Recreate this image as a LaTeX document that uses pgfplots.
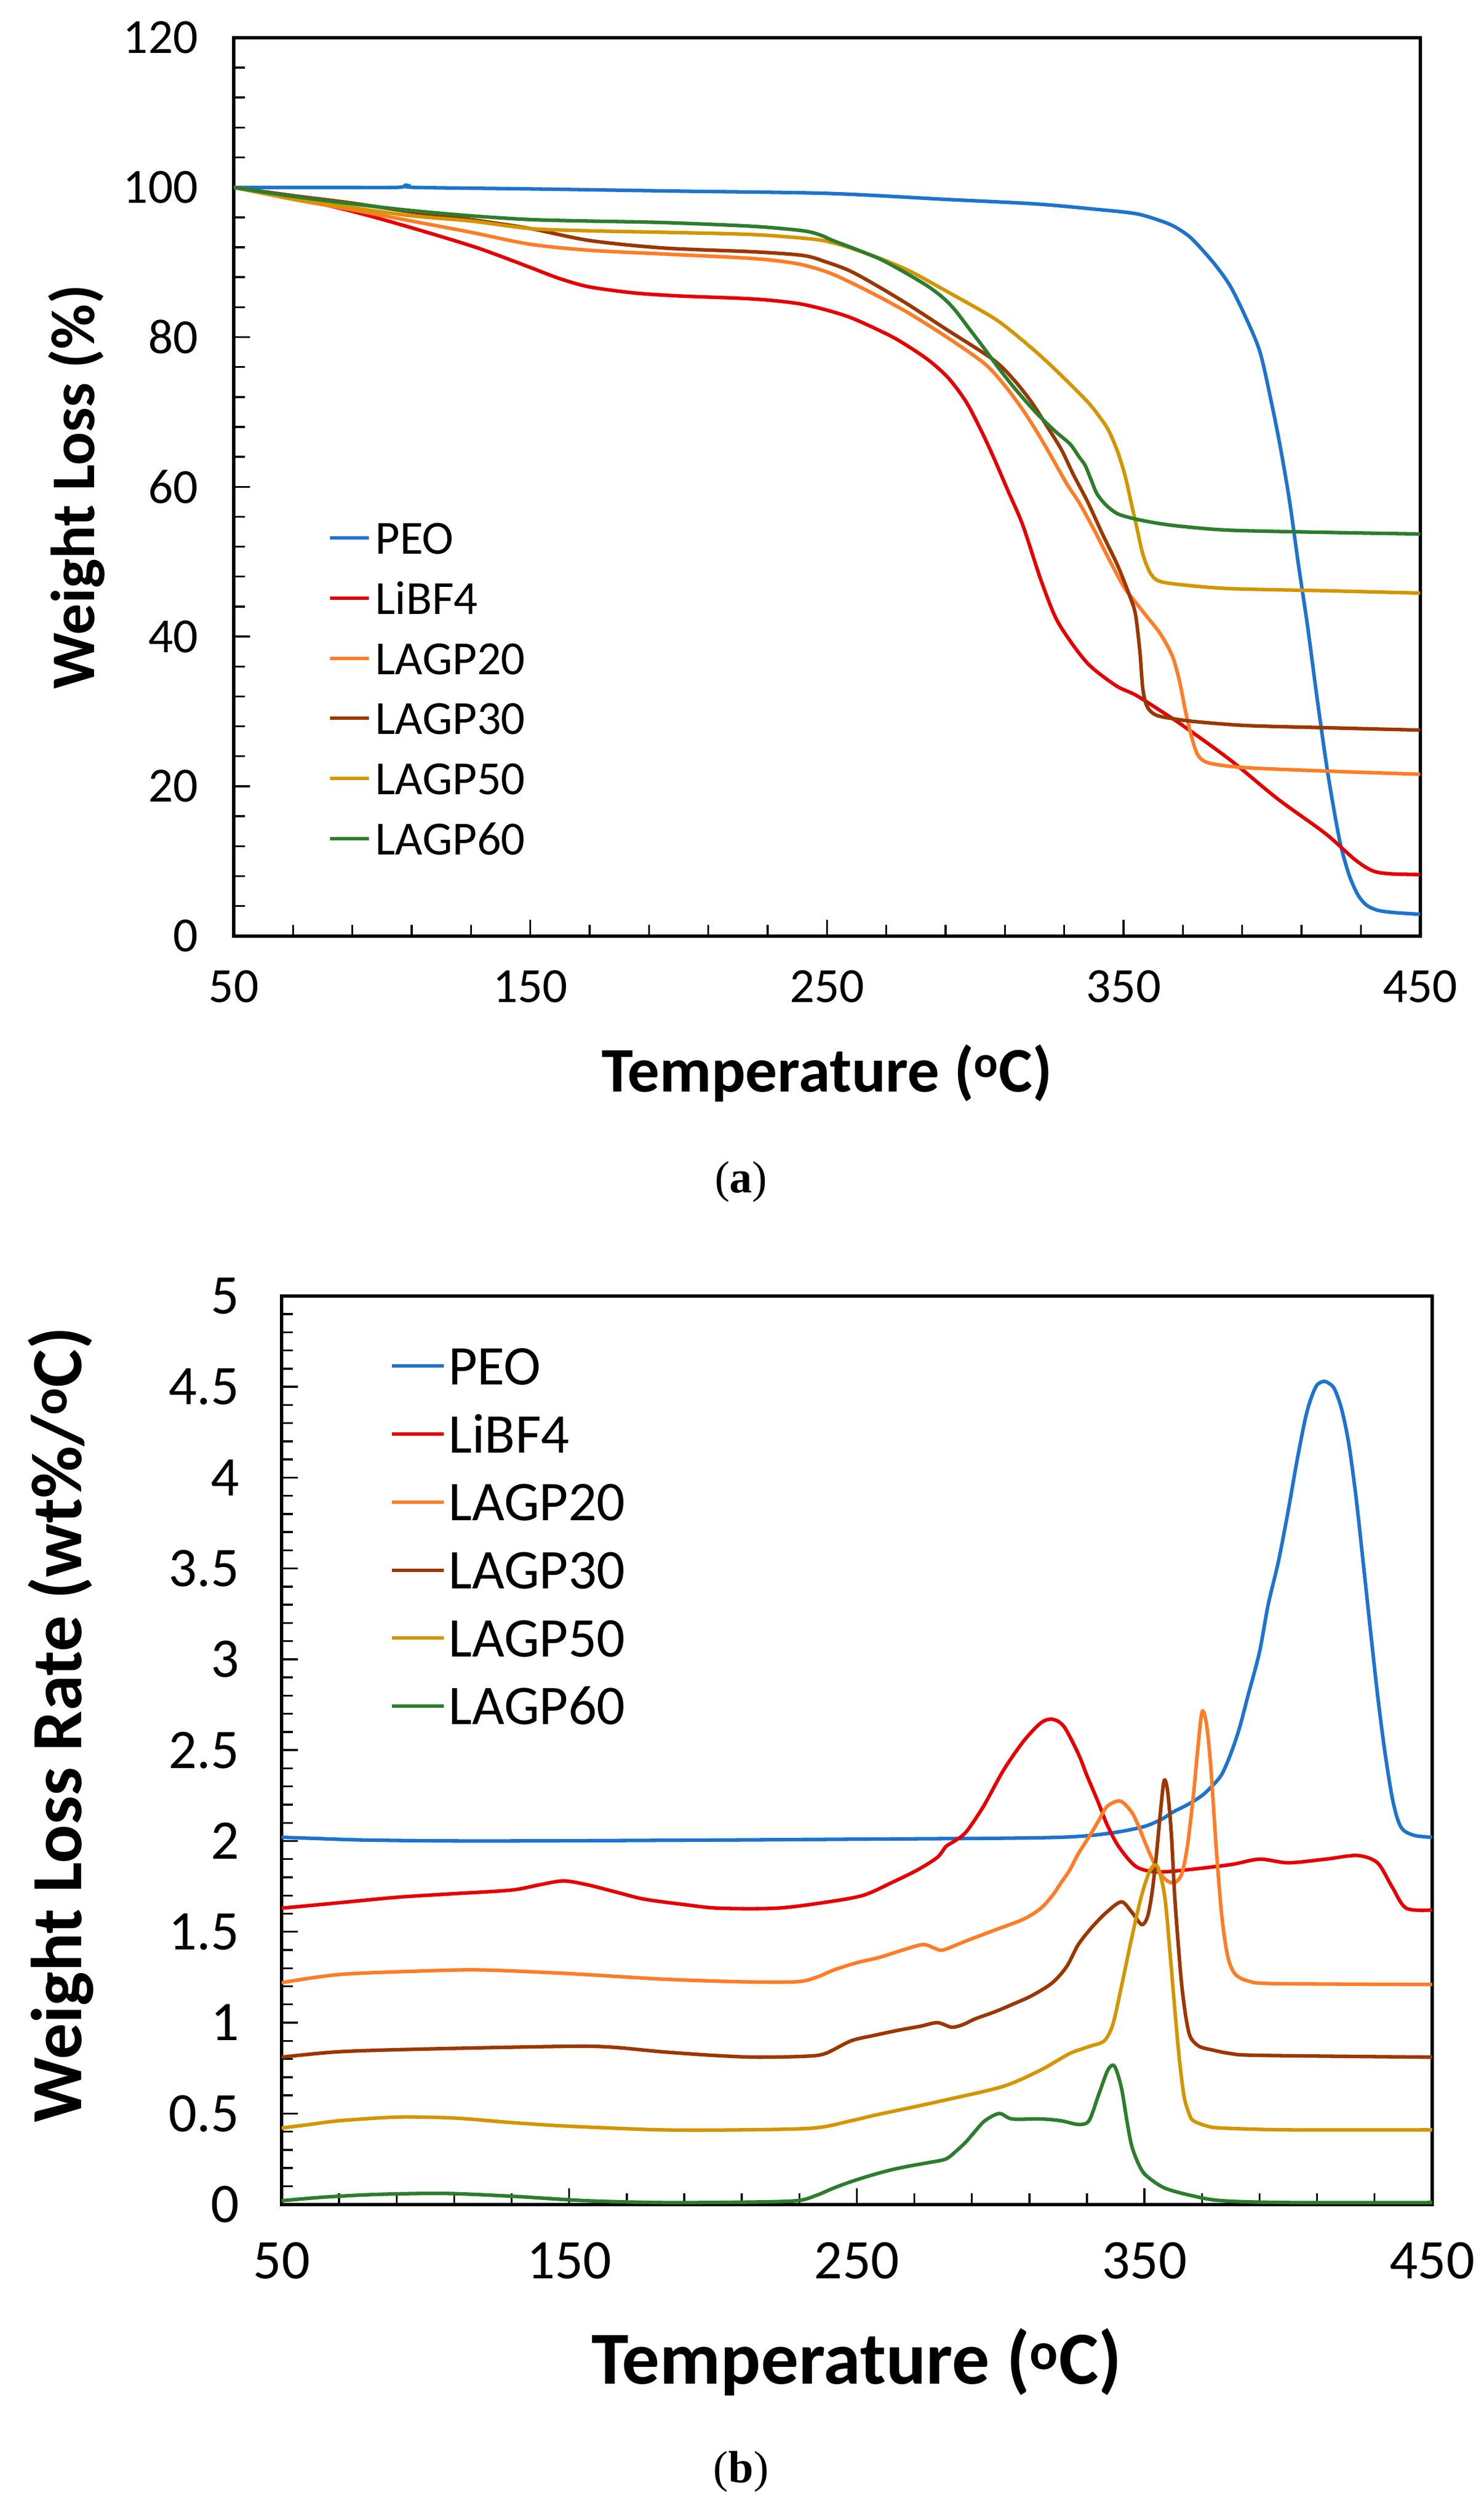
\documentclass[border=0pt]{standalone}
\usepackage{fontspec}
\setmainfont{Carlito}
\newfontfamily\capfont{Liberation Serif}
\usepackage{pgfplots}
\pgfplotsset{compat=1.18}
\definecolor{cPEO}{RGB}{30,115,205}
\definecolor{cLi}{RGB}{228,0,0}
\definecolor{cL20}{RGB}{255,125,40}
\definecolor{cL30}{RGB}{155,55,0}
\definecolor{cL50}{RGB}{210,150,0}
\definecolor{cL60}{RGB}{45,125,45}
\pgfplotsset{
  tgaax/.style={
    scale only axis, anchor=south west,
    xmin=50, xmax=450,
    xtick={50,150,...,450},
    minor x tick num=4, minor y tick num=4,
    tick align=inside, xtick pos=bottom, ytick pos=left,
    major tick length=10pt, minor tick length=7pt,
    axis line style={line width=2.1pt},
    every tick/.style={black,line width=1.2pt},
    /pgf/number format/assume math mode=true,
    legend cell align=left,
    legend image code/.code={\draw[##1,line width=2.1pt] (0pt,0pt) -- (\legendlen,0pt);},
    every axis plot/.append style={line width=2.2pt, smooth, tension=0.5, mark=none},
  }
}
\newcommand{\legendlen}{24pt}
\begin{document}
\begin{tikzpicture}
\path[use as bounding box] (0pt,0pt) rectangle (921pt,1564pt);
% ---------------- panel (a) ----------------
\begin{axis}[tgaax,
  at={(145.1pt,983.1pt)}, width=736.4pt, height=557.5pt,
  ymin=0, ymax=120, ytick={0,20,...,120},
  tick label style={font=\fontsize{30.5}{30.5}\selectfont},
  xticklabel style={yshift=-18pt},
  yticklabel style={xshift=-18.7pt},
  xlabel={Temperature (\textsuperscript{o}C)},
  ylabel={Weight Loss (\%)},
  xlabel style={font=\bfseries\fontsize{39.5}{39.5}\selectfont, at={(axis description cs:0.5,-0.1527)}, anchor=center},
  ylabel style={font=\bfseries\fontsize{38.5}{38.5}\selectfont, at={(axis description cs:-0.1323,0.5)}, anchor=center, rotate=0},
  legend style={at={(axis description cs:0.0798,0.4610)}, anchor=north west, draw=none, fill=none,
    inner sep=0pt, outer sep=0pt, row sep=17.3pt, column sep=3pt,
    font=\fontsize{29.5}{29.5}\selectfont,
    nodes={inner sep=0pt, text height=20pt, text depth=0pt}},
]
\addplot[cPEO] coordinates {(50,100) (80,100) (105,100) (108,100.3) (111,100) (150,99.8) (200,99.5) (250,99.2) (290,98.4) (320,97.8) (340,97.1) (354,96.5) (362,95.6) (367,94.8) (372,93.5) (376,91.9) (381,89.6) (386,86.8) (391,82.8) (396,78) (400,71) (403,65) (406,58) (409,49.5) (412,41.5) (415,32.5) (418,24) (420,19) (423,12.5) (426,8.2) (429,5.5) (432,4.1) (436,3.4) (442,3.1) (450,2.9)};
\addlegendentry{PEO}
\addplot[cLi] coordinates {(50,100) (70,98.6) (90,96.8) (110,94.6) (130,92.2) (140,90.8) (150,89.3) (160,87.8) (170,86.7) (185,85.9) (200,85.5) (225,85.1) (240,84.5) (250,83.6) (258,82.6) (266,81.2) (274,79.6) (284,77) (291,74.5) (297,71.3) (302,67.5) (306,64.1) (311,59.5) (316,54.9) (322,47.7) (327,42.6) (332,39.4) (337,36.8) (341,35.3) (348,33.3) (354,32.2) (362,30.2) (370,28.1) (386,23.5) (402,18.3) (418,13.7) (428,10.2) (434,8.7) (440,8.3) (450,8.2)};
\addlegendentry{LiBF4}
\addplot[cL20] coordinates {(50,100) (70,98.4) (90,97) (110,95.5) (130,94) (150,92.4) (170,91.6) (195,91.1) (225,90.5) (240,89.8) (250,88.7) (258,87.3) (268,85.3) (278,83.1) (290,80.1) (303,76.5) (310,73.5) (316,70.3) (321,67.2) (326,63.8) (331,60.3) (335,57.9) (340,54.3) (345,50.4) (350,46.7) (354,44.6) (358,42.6) (362,40.6) (365,38.6) (367,36.8) (369,33.8) (371,29.8) (373,26.5) (375,24.2) (378,23.2) (385,22.7) (395,22.4) (420,22.0) (450,21.6)};
\addlegendentry{LAGP20}
\addplot[cL30] coordinates {(50,100) (70,98.9) (90,97.9) (110,96.7) (130,95.7) (150,94.5) (170,92.9) (195,91.9) (225,91.4) (242,90.9) (250,90.0) (258,88.8) (268,86.6) (278,84.2) (290,81.1) (306,77) (313,74.3) (319,71.3) (324,68.2) (329,65) (333,61.7) (338,57.9) (343,53.6) (348,49.5) (352,45.5) (354,43) (355.5,38) (356.5,33) (358,30.6) (361,29.5) (367,29) (375,28.6) (392,28.1) (420,27.8) (450,27.5)};
\addlegendentry{LAGP30}
\addplot[cL50] coordinates {(50,100) (70,98.5) (90,97.3) (110,96.2) (130,95.5) (150,94.5) (170,94.2) (195,94) (225,93.7) (245,93.1) (252,92.6) (258,91.9) (268,90.5) (278,88.8) (290,86.2) (306,82.6) (314,80.2) (322,77.5) (330,74.5) (338,71.3) (342,69.3) (345,67.5) (348,64.7) (350.5,61.5) (352.5,58) (354.5,54.5) (356.5,51) (359,48.5) (362,47.4) (370,46.9) (386,46.4) (420,46.1) (450,45.8)};
\addlegendentry{LAGP50}
\addplot[cL60] coordinates {(50,100) (70,98.8) (90,97.8) (110,96.9) (130,96.2) (150,95.7) (170,95.5) (195,95.3) (225,94.8) (242,94.2) (248,93.6) (252,92.9) (260,91.7) (268,90.4) (276,88.7) (284,86.8) (289,85.3) (293,83.7) (298,81.1) (303,78.5) (308,75.8) (313,73.3) (318,71) (322,69.3) (327,67.4) (332,65.7) (335,64) (337,62.9) (339,61) (341,59.1) (344,57.6) (348,56.4) (354,55.7) (362,55.1) (370,54.7) (386,54.2) (420,53.9) (450,53.7)};
\addlegendentry{LAGP60}
\end{axis}
\node[font=\capfont\fontsize{28}{28}\selectfont] at (460pt,830.4pt) {(\textbf{a})};
% ---------------- panel (b) ----------------
\renewcommand{\legendlen}{32pt}
\begin{axis}[tgaax,
  at={(174.8pt,195.9pt)}, width=714.1pt, height=563.8pt,
  ymin=0, ymax=5, ytick={0,0.5,...,5},
  tick label style={font=\fontsize{34.7}{34.7}\selectfont},
  xticklabel style={yshift=-20pt},
  yticklabel style={xshift=-22.7pt},
  xlabel={Temperature (\textsuperscript{o}C)},
  ylabel={Weight Loss Rate (wt\%/\textsuperscript{o}C)},
  xlabel style={font=\bfseries\fontsize{46.5}{46.5}\selectfont, at={(axis description cs:0.5,-0.1736)}, anchor=center},
  ylabel style={font=\bfseries\fontsize{44.6}{44.6}\selectfont, at={(axis description cs:-0.192,0.528)}, anchor=center, rotate=0},
  legend style={at={(axis description cs:0.0945,0.9431)}, anchor=north west, draw=none, fill=none,
    inner sep=0pt, outer sep=0pt, row sep=19.2pt, column sep=2pt,
    font=\fontsize{34.8}{34.8}\selectfont,
    nodes={inner sep=0pt, text height=23pt, text depth=0pt}},
]
\addplot[cPEO] coordinates {(50,2.02) (60,2.015) (80,2.005) (120,2.0) (200,2.005) (250,2.01) (300,2.015) (320,2.02) (331,2.03) (341,2.05) (350,2.08) (356,2.12) (360,2.16) (365,2.2) (370,2.25) (374,2.31) (377,2.37) (380,2.48) (383,2.62) (386,2.8) (390,3.04) (393,3.3) (396.6,3.54) (400,3.82) (403,4.09) (406,4.33) (408,4.44) (410,4.51) (412.4,4.53) (414,4.52) (416,4.49) (418.5,4.38) (421,4.19) (423.5,3.9) (426,3.54) (428.5,3.17) (431,2.81) (433.5,2.5) (436,2.25) (438,2.12) (440,2.06) (444,2.03) (450,2.02)};
\addlegendentry{PEO}
\addplot[cLi] coordinates {(50,1.63) (70,1.66) (90,1.69) (110,1.71) (130,1.73) (140,1.76) (148,1.78) (156,1.76) (166,1.72) (176,1.68) (190,1.65) (202,1.63) (222,1.63) (238,1.66) (252,1.70) (262,1.77) (271,1.84) (278,1.91) (281,1.97) (284,2.0) (288,2.05) (294,2.19) (301,2.39) (308,2.55) (314,2.65) (318,2.67) (322,2.63) (327,2.48) (330,2.36) (334,2.21) (337,2.09) (341,1.97) (347,1.86) (354,1.83) (364,1.84) (380,1.87) (390,1.90) (400,1.88) (413,1.90) (424,1.92) (431,1.88) (436,1.75) (441,1.63) (450,1.62)};
\addlegendentry{LiBF4}
\addplot[cL20] coordinates {(50,1.22) (70,1.265) (100,1.285) (120,1.29) (150,1.27) (182,1.24) (210,1.225) (229,1.225) (236,1.25) (242,1.29) (250,1.33) (258,1.36) (266,1.40) (273,1.43) (277,1.41) (280,1.40) (288,1.45) (298,1.51) (308,1.57) (314,1.63) (318,1.70) (321,1.77) (324,1.84) (327,1.93) (331,2.03) (334,2.11) (337,2.19) (341.5,2.22) (345.5,2.16) (348,2.08) (350.5,1.98) (353,1.89) (355.5,1.82) (358,1.78) (360.5,1.77) (363,1.82) (365,1.98) (367,2.25) (368.5,2.5) (370,2.71) (371.5,2.65) (373,2.42) (375,1.95) (376.8,1.6) (378.5,1.4) (380,1.31) (382,1.26) (386,1.23) (395,1.215) (450,1.21)};
\addlegendentry{LAGP20}
\addplot[cL30] coordinates {(50,0.81) (70,0.84) (100,0.855) (150,0.87) (165,0.865) (182,0.84) (200,0.82) (215,0.81) (232,0.815) (239,0.83) (248,0.90) (256,0.93) (265,0.96) (272,0.98) (278,1.0) (283,0.975) (287,0.99) (291,1.02) (298,1.06) (304,1.10) (311,1.15) (318,1.22) (323,1.31) (327,1.43) (332,1.53) (337,1.61) (342,1.665) (345.5,1.61) (349,1.54) (351,1.58) (352.5,1.70) (354,1.9) (355.5,2.15) (356.8,2.33) (358,2.28) (359.3,2.05) (360.5,1.7) (361.8,1.42) (363,1.2) (364.5,1.02) (366,0.92) (369,0.87) (373.5,0.85) (380,0.83) (390,0.82) (450,0.81)};
\addlegendentry{LAGP30}
\addplot[cL50] coordinates {(50,0.42) (60,0.44) (70,0.46) (90,0.48) (110,0.475) (130,0.45) (150,0.43) (182,0.41) (210,0.41) (235,0.42) (248,0.46) (256,0.49) (265,0.52) (281,0.575) (301,0.65) (314,0.74) (324,0.83) (331,0.87) (336,0.90) (339,0.99) (342,1.20) (345.6,1.47) (349,1.70) (352,1.84) (354.5,1.86) (357,1.70) (358.8,1.40) (360.4,1.10) (362,0.82) (363.7,0.60) (365.5,0.50) (367,0.46) (372,0.43) (377,0.42) (400,0.41) (450,0.41)};
\addlegendentry{LAGP50}
\addplot[cL60] coordinates {(50,0.02) (65,0.04) (83.6,0.055) (106.7,0.06) (129.7,0.045) (156,0.02) (182,0.01) (210,0.012) (229,0.02) (236,0.05) (242,0.09) (248,0.125) (255,0.16) (262,0.19) (268,0.21) (275,0.23) (281,0.25) (285,0.30) (288,0.345) (291,0.40) (294.5,0.46) (299.5,0.50) (304,0.47) (314,0.47) (321,0.46) (327,0.44) (330.7,0.46) (334,0.60) (337.3,0.74) (339.6,0.76) (342,0.64) (344,0.45) (345.6,0.32) (348,0.22) (350.5,0.16) (357,0.09) (367,0.046) (377,0.02) (400,0.01) (450,0.01)};
\addlegendentry{LAGP60}
\end{axis}
\node[font=\capfont\fontsize{28}{28}\selectfont] at (460pt,30pt) {(\textbf{b})};
\end{tikzpicture}
\end{document}
